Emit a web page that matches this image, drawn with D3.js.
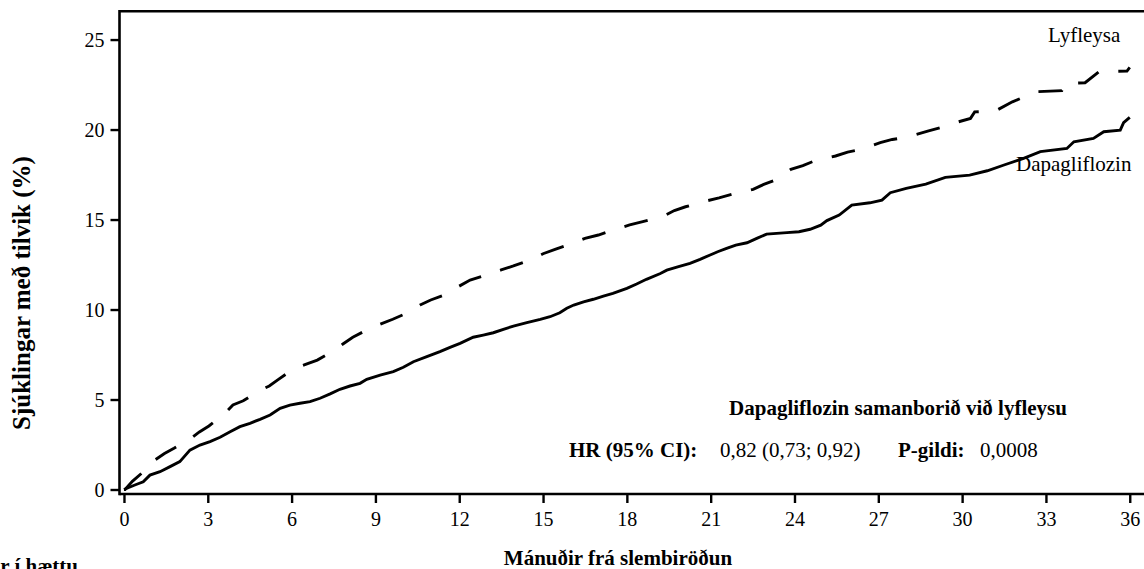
<!DOCTYPE html>
<html>
<head>
<meta charset="utf-8">
<script src="https://cdn.jsdelivr.net/npm/d3@7"></script>
<style>
  html, body { margin: 0; padding: 0; background: #fff; }
  svg { display: block; }
  svg text { font-family: "Liberation Serif", "Times New Roman", Times, Tinos, "Nimbus Roman", "DejaVu Serif", serif; fill: #000; }
</style>
</head>
<body>
<svg id="chart" width="1144" height="569"></svg>
<script>
// Cumulative incidence (%) by month since randomisation
const dapaMonths = [0, 0.39, 0.69, 0.93, 1.29, 1.65, 2.0, 2.36, 2.72, 3.08, 3.44, 3.8, 4.15, 4.51, 4.87, 5.23, 5.59, 5.94, 6.3, 6.66, 7.02, 7.38, 7.73, 8.09, 8.45, 8.69, 9.17, 9.64, 10.0, 10.36, 10.84, 11.31, 11.67, 12.03, 12.5, 12.86, 13.22, 13.58, 13.94, 14.42, 14.9, 15.25, 15.6, 15.85, 16.1, 16.45, 16.8, 17.16, 17.5, 18.0, 18.35, 18.7, 19.2, 19.43, 19.85, 20.26, 20.62, 20.98, 21.25, 21.57, 21.9, 22.3, 22.65, 23.0, 23.73, 24.16, 24.56, 24.94, 25.16, 25.6, 26.05, 26.7, 27.13, 27.43, 28.0, 28.7, 29.4, 30.27, 30.9, 31.5, 32.2, 32.8, 33.75, 34.0, 34.7, 35.07, 35.66, 35.78, 36.0];
const dapaValues = [0, 0.25, 0.43, 0.8, 0.99, 1.27, 1.55, 2.19, 2.47, 2.66, 2.9, 3.21, 3.49, 3.68, 3.9, 4.14, 4.51, 4.69, 4.79, 4.88, 5.07, 5.31, 5.57, 5.75, 5.9, 6.12, 6.36, 6.55, 6.79, 7.1, 7.38, 7.66, 7.9, 8.12, 8.46, 8.58, 8.71, 8.9, 9.08, 9.27, 9.45, 9.6, 9.82, 10.07, 10.25, 10.43, 10.57, 10.75, 10.9, 11.18, 11.42, 11.68, 12.0, 12.19, 12.38, 12.57, 12.79, 13.03, 13.21, 13.4, 13.58, 13.71, 13.95, 14.19, 14.27, 14.32, 14.46, 14.69, 14.94, 15.25, 15.8, 15.93, 16.08, 16.49, 16.73, 16.97, 17.34, 17.47, 17.71, 18.03, 18.4, 18.77, 18.95, 19.32, 19.51, 19.88, 19.97, 20.38, 20.68];

const placeboMonths = [0, 0.04, 0.3, 0.63, 1.11, 1.45, 1.79, 2.4, 2.7, 3.04, 3.59, 3.9, 4.27, 4.84, 5.2, 5.53, 6.1, 6.5, 6.92, 7.5, 7.85, 8.19, 8.81, 9.2, 9.62, 10.24, 10.6, 10.98, 11.67, 12.0, 12.39, 13.08, 13.5, 13.94, 14.6, 15.0, 15.43, 16.1, 16.5, 16.98, 17.7, 18.1, 18.57, 19.31, 19.7, 20.1, 20.86, 21.3, 21.76, 22.52, 22.9, 23.31, 23.87, 24.3, 24.7, 25.47, 25.9, 26.4, 27.07, 27.5, 28.0, 28.8, 29.2, 29.6, 30.3, 30.45, 31.2, 31.8, 32.2, 32.67, 33.57, 33.7, 34.4, 34.9, 35.9, 36.0];
const placeboValues = [0, 0, 0.45, 0.9, 1.64, 2.0, 2.29, 2.84, 3.2, 3.53, 4.19, 4.7, 4.93, 5.49, 5.75, 6.12, 6.73, 6.95, 7.19, 7.71, 8.1, 8.46, 8.96, 9.2, 9.46, 9.88, 10.25, 10.53, 10.93, 11.3, 11.64, 11.97, 12.2, 12.42, 12.79, 13.1, 13.34, 13.71, 13.95, 14.14, 14.51, 14.7, 14.88, 15.19, 15.5, 15.71, 16.04, 16.2, 16.4, 16.68, 16.95, 17.19, 17.79, 18.0, 18.25, 18.53, 18.75, 18.9, 19.27, 19.45, 19.57, 19.93, 20.1, 20.31, 20.62, 20.98, 21.04, 21.54, 21.8, 22.1, 22.16, 22.55, 22.6, 23.21, 23.25, 23.45];

const xTicks = [0, 3, 6, 9, 12, 15, 18, 21, 24, 27, 30, 33, 36];
const yTicks = [0, 5, 10, 15, 20, 25];

const seriesNames = ["Lyfleysa", "Dapagliflozin"];
const xTitle = "Mánuðir frá slembiröðun";
const yTitle = "Sjúklingar með tilvik (%)";
const atRiskTitle = "Sjúklingar í hættu";
const comparisonTitle = "Dapagliflozin samanborið við lyfleysu";
const hrLabel = "HR (95% CI):";
const hrValue = "0,82 (0,73; 0,92)";
const pLabel = "P-gildi:";
const pValue = "0,0008";

// ---- layout ----
const svg = d3.select("#chart");

const x = d3.scaleLinear().domain([-0.16, 36.51]).range([119.5, 1144]);
const y = d3.scaleLinear().domain([-0.25, 26.57]).range([494, 11.3]);

const frameLeft = x.range()[0], frameRight = x.range()[1];
const frameBottom = y.range()[0], frameTop = y.range()[1];

// frame: left axis, top border, bottom axis
const frame = svg.append("g").attr("stroke", "#000").attr("stroke-width", 2.6).attr("fill", "none");
frame.append("line").attr("x1", frameLeft).attr("x2", frameLeft).attr("y1", frameTop - 1.3).attr("y2", frameBottom + 1.3);
frame.append("line").attr("x1", frameLeft).attr("x2", frameRight).attr("y1", frameTop).attr("y2", frameTop);
frame.append("line").attr("x1", frameLeft).attr("x2", frameRight).attr("y1", frameBottom).attr("y2", frameBottom);

// y axis ticks
const yAxis = svg.append("g")
  .attr("transform", `translate(${frameLeft},0)`)
  .call(d3.axisLeft(y).tickValues(yTicks).tickSize(9).tickPadding(6).tickFormat(d3.format("d")));
yAxis.select(".domain").remove();
yAxis.attr("font-family", null);
yAxis.selectAll(".tick line").attr("stroke", "#000").attr("stroke-width", 2.4);
yAxis.selectAll(".tick text")
  .attr("font-size", 20)
  .attr("dy", "0.37em")
  .attr("fill", "#000");

// x axis ticks
const xAxis = svg.append("g")
  .attr("transform", `translate(0,${frameBottom})`)
  .call(d3.axisBottom(x).tickValues(xTicks).tickSize(9).tickPadding(9).tickFormat(d3.format("d")));
xAxis.select(".domain").remove();
xAxis.attr("font-family", null);
xAxis.selectAll(".tick line").attr("stroke", "#000").attr("stroke-width", 2.4);
xAxis.selectAll(".tick text")
  .attr("font-size", 20)
  .attr("fill", "#000");

// ---- curves ----
const line = d3.line()
  .x(d => x(d[0]))
  .y(d => y(d[1]));

const placebo = placeboMonths.map((m, i) => [m, placeboValues[i]]);
const dapa = dapaMonths.map((m, i) => [m, dapaValues[i]]);

svg.append("path")
  .datum(placebo)
  .attr("d", line)
  .attr("fill", "none")
  .attr("stroke", "#000")
  .attr("stroke-width", 2.9)
  .attr("stroke-dasharray", "24,20");

svg.append("path")
  .datum(dapa)
  .attr("d", line)
  .attr("fill", "none")
  .attr("stroke", "#000")
  .attr("stroke-width", 2.9);

// ---- labels ----
svg.append("text").attr("x", 1048).attr("y", 42).attr("font-size", 21).text(seriesNames[0]);
svg.append("text").attr("x", 1016).attr("y", 171).attr("font-size", 21).text(seriesNames[1]);

svg.append("text").attr("x", 898).attr("y", 415).attr("font-size", 21)
  .attr("font-weight", "bold").attr("text-anchor", "middle").text(comparisonTitle);

svg.append("text").attr("x", 569).attr("y", 457).attr("font-size", 21).attr("font-weight", "bold").text(hrLabel);
svg.append("text").attr("x", 720).attr("y", 457).attr("font-size", 21).text(hrValue);
svg.append("text").attr("x", 898).attr("y", 457).attr("font-size", 21).attr("font-weight", "bold").text(pLabel);
svg.append("text").attr("x", 980).attr("y", 457).attr("font-size", 21).text(pValue);

// axis titles
svg.append("text")
  .attr("x", 618).attr("y", 565)
  .attr("font-size", 21).attr("font-weight", "bold").attr("text-anchor", "middle")
  .text(xTitle);

svg.append("text")
  .attr("transform", "translate(30,293) rotate(-90)")
  .attr("font-size", 25).attr("font-weight", "bold").attr("text-anchor", "middle")
  .text(yTitle);

// number-at-risk heading, partly outside the drawing area
svg.append("text")
  .attr("x", 78).attr("y", 573)
  .attr("font-size", 21).attr("font-weight", "bold").attr("text-anchor", "end")
  .text(atRiskTitle);
</script>
</body>
</html>
